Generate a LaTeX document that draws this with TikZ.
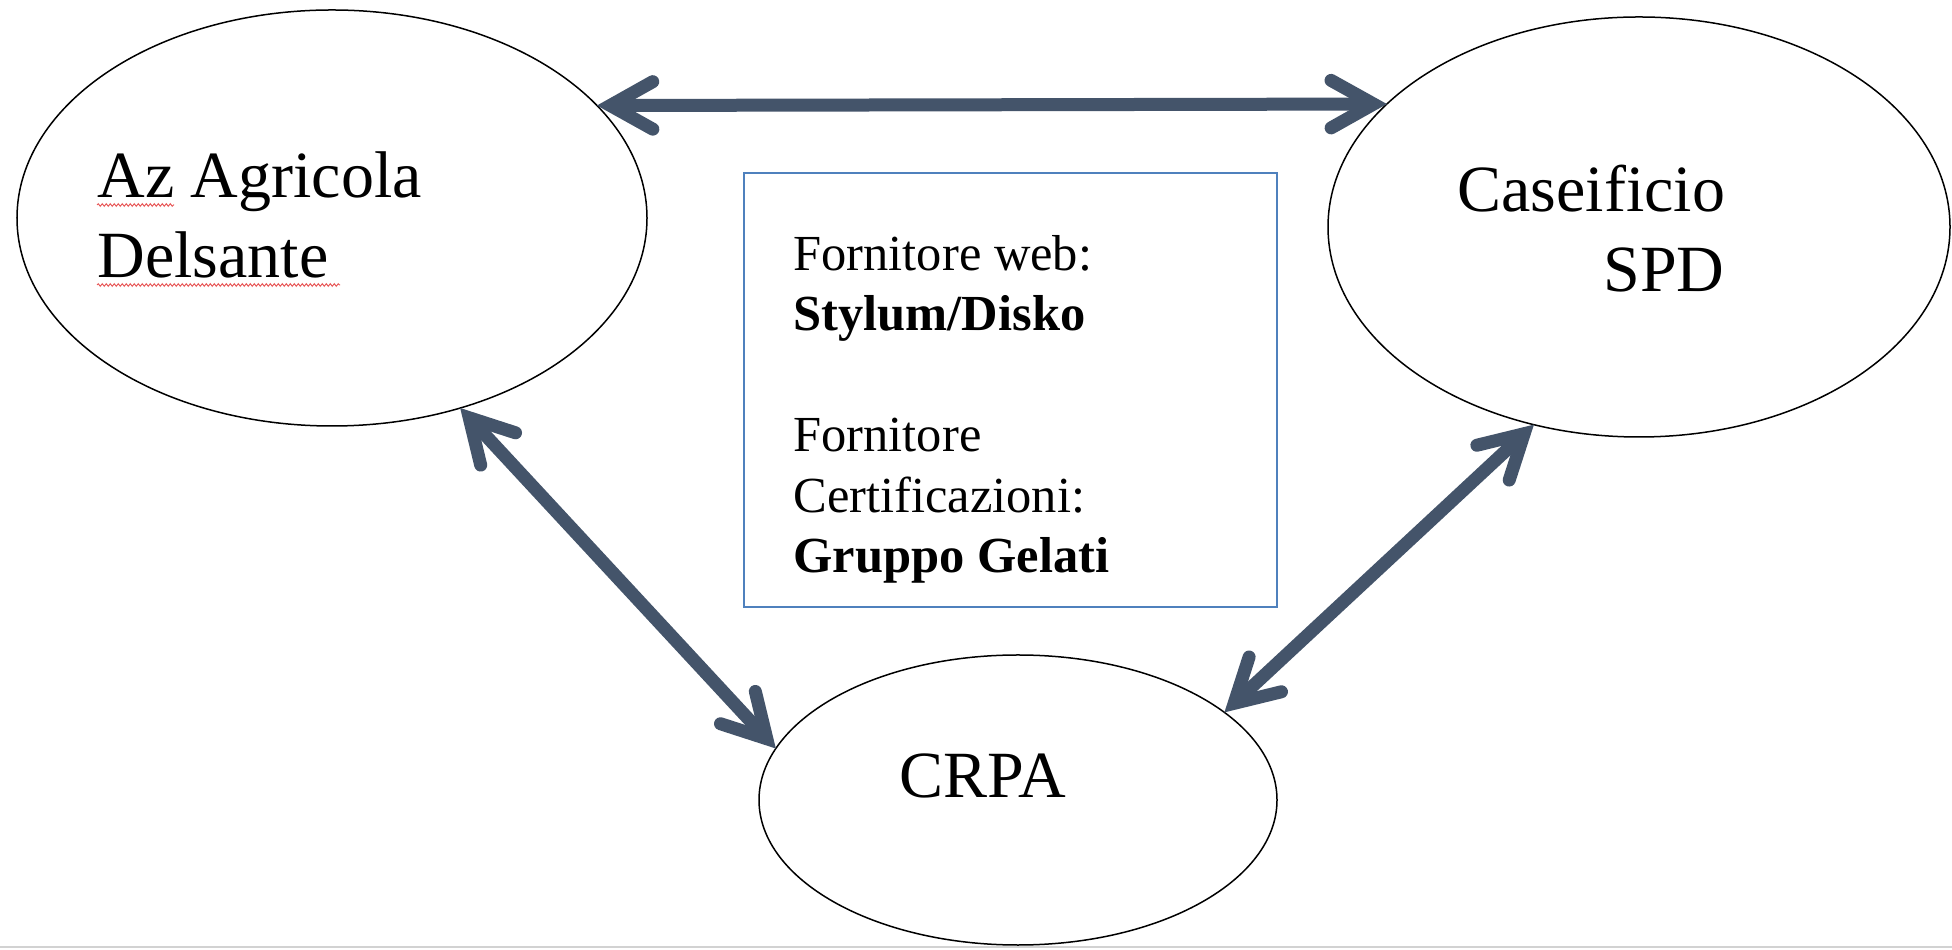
\documentclass[tikz,border=0pt]{standalone}
\usepackage{fontspec}
\setmainfont{Liberation Serif}[Ligatures=NoCommon]
\usetikzlibrary{arrows.meta,shapes.geometric,decorations.pathmorphing}
\definecolor{arrowc}{HTML}{44546A}
\definecolor{boxc}{HTML}{4F81BD}
\definecolor{spellc}{HTML}{E85A5A}
\begin{document}
\begin{tikzpicture}[x=0.4pt,y=-0.4pt,
  oval/.style={draw=black, line width=0.6pt, ellipse, inner sep=0pt, outer sep=0pt},
  lbl/.style={anchor=base west, inner sep=0pt, font=\fontsize{26.4}{32}\selectfont},
  boxtxt/.style={anchor=base west, inner sep=0pt, font=\fontsize{20.2}{24.2}\selectfont},
  barb/.tip={Straight Barb[length=17pt,width=19pt,line cap=round,line join=miter]},
  link/.style={draw=arrowc, line width=5.2pt, barb-barb},
  spell/.style={draw=spellc, line width=0.4pt, decorate, decoration={snake,amplitude=0.5pt,segment length=1.6pt}}]
\useasboundingbox[fill=white] (0,0) rectangle (1952,950);
\draw[gray!35, line width=0.8pt] (0,947) -- (1952,947);

% ellipses
\node[oval, minimum width=252pt, minimum height=166.4pt] (A) at (332,218) {};
\node[oval, minimum width=248.8pt, minimum height=168pt] (B) at (1639,227) {};
\node[oval, minimum width=207.2pt, minimum height=116pt] (C) at (1018,800) {};

% labels
\node[lbl] (a1) at (97,198) {Az Agricola};
\node[lbl] (a2) at (97,278) {Delsante};
\node[lbl] (b1) at (1457,212) {Caseificio};
\node[lbl] (b2) at (1603,292) {SPD};
\node[lbl] (c1) at (899,798) {CRPA};

% spell-check underlines
\draw[spell] (97,205) -- (174,205);
\draw[spell] (97,285) -- (340,285);

% central box
\node[draw=boxc, line width=0.6pt, minimum width=213.2pt, minimum height=173.6pt,
      inner sep=0pt, outer sep=0pt, anchor=north west] (box) at (744,173) {};
\node[boxtxt] (t1) at (793,271) {Fornitore web:};
\node[boxtxt] (t2) at (793,331) {\textbf{Stylum/Disko}};
\node[boxtxt] (t3) at (793,452) {Fornitore};
\node[boxtxt] (t4) at (793,513) {Certificazioni:};
\node[boxtxt] (t5) at (793,573) {\textbf{Gruppo Gelati}};

% connectors
\draw[link] (A.23) -- (B.154.5);
\draw[link] (A.-56.9) -- (C.168.4);
\draw[link] (B.-118) -- (C.23.2);
\end{tikzpicture}
\end{document}
